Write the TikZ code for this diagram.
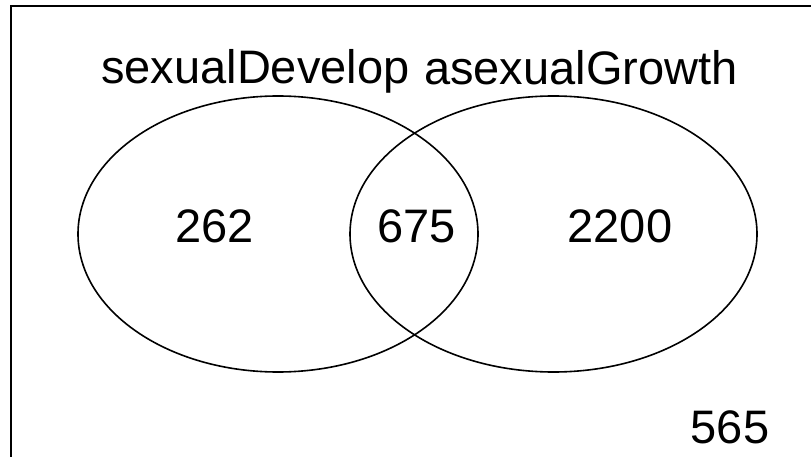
\documentclass[tikz,border=0pt]{standalone}
\usepackage{fontspec}
\setmainfont{Liberation Sans}
\tikzset{
  setline/.style={line width=1.6pt, black},
  vlabel/.style={inner sep=0pt, anchor=base, font=\fontsize{47}{56}\selectfont},
}
\begin{document}
\begin{tikzpicture}[x=1pt, y=-1pt]
  \useasboundingbox (0,0) rectangle (811,457);
  % open frame (right and bottom sides fall outside the page)
  \draw[setline] (11,457) -- (11,6) -- (811,6);
  % the two sets
  \draw[setline] (278,234) ellipse [x radius=200, y radius=138];
  \draw[setline] (553.5,234) ellipse [x radius=203.5, y radius=138];
  % set names
  \node[vlabel, anchor=base west] (nameA) at (101,84) {sexualDevelop};
  \node[vlabel, anchor=base west] (nameB) at (424,85) {asexualGrowth};
  % counts
  \node[vlabel] (onlyA) at (214.5,243) {262};
  \node[vlabel] (both) at (416.5,243) {675};
  \node[vlabel] (onlyB) at (620,243) {2200};
  \node[vlabel] (neither) at (730,443) {565};
\end{tikzpicture}
\end{document}
